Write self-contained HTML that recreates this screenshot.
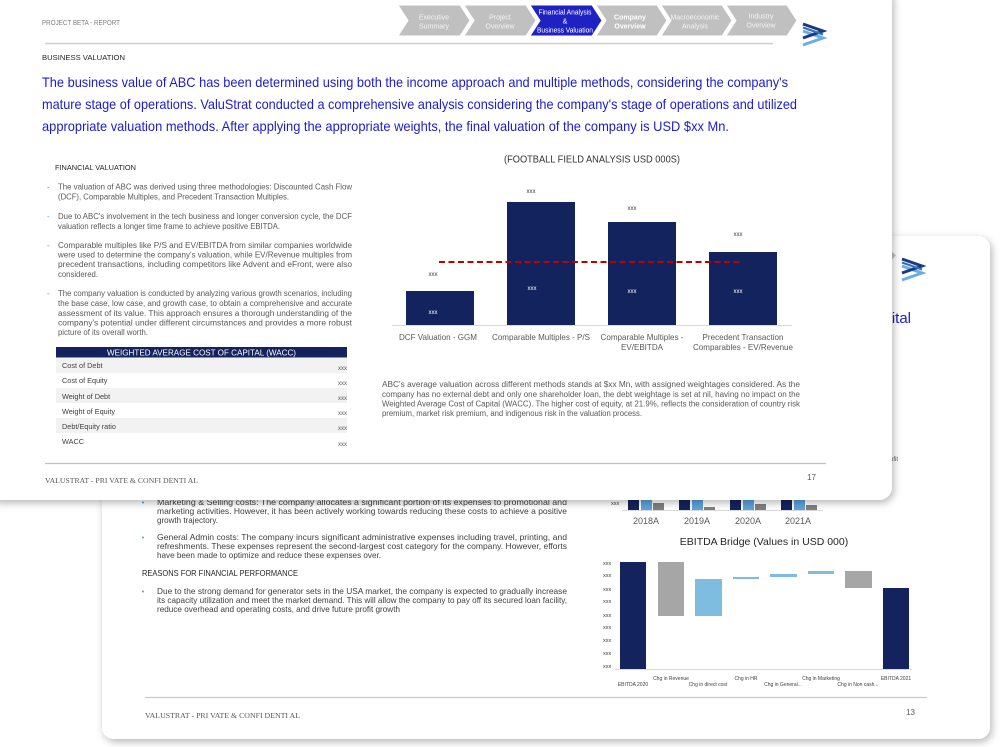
<!DOCTYPE html>
<html><head><meta charset="utf-8"><style>
html,body{margin:0;padding:0;background:#fff;}
svg{display:block;}
text{font-family:"Liberation Sans",Arial,sans-serif;}
.serif{font-family:"Liberation Serif",serif;}
</style></head><body>
<svg width="1000" height="747" viewBox="0 0 1000 747" xmlns="http://www.w3.org/2000/svg">
<defs>
<filter id="sh" x="-10%" y="-10%" width="120%" height="120%">
<feDropShadow dx="2" dy="3" stdDeviation="4" flood-color="#000" flood-opacity="0.28"/>
</filter>
</defs>
<rect width="1000" height="747" fill="#fff"/>

<!-- ============ BACK SLIDE ============ -->
<rect x="102" y="236" width="888" height="503" rx="12" fill="#fff" filter="url(#sh)"/>
<polygon points="850,247 887,247 896,255.5 887,264 850,264 858,255.5" fill="#c4c4c4"/>
<g transform="translate(902,258)">
<polyline points="0,8 20,15 0,22" fill="none" stroke="#6aaee6" stroke-width="3"/>
<polyline points="0,1 20,8 0,15" fill="none" stroke="#1d3a80" stroke-width="3"/>
<polyline points="0,4.5 20,11.5" fill="none" stroke="#2f6fc0" stroke-width="2"/>
</g>
<text x="911" y="323" font-size="15" fill="#1c1ccc" text-anchor="end">improve working capital</text>
<text x="898" y="461" font-size="6" fill="#595959" text-anchor="end">profit</text>

<!-- small column chart remnant -->
<text x="611" y="505" font-size="5.5" fill="#404040">xxx</text>
<g>
<rect x="628" y="494" width="11" height="16" fill="#13235e"/>
<rect x="641" y="494" width="11" height="16" fill="#5ba3dc"/>
<rect x="653" y="503" width="11" height="7" fill="#7f7f7f"/>
<rect x="679" y="494" width="11" height="16" fill="#13235e"/>
<rect x="692" y="494" width="11" height="16" fill="#5ba3dc"/>
<rect x="704" y="507" width="11" height="3" fill="#7f7f7f"/>
<rect x="730" y="494" width="11" height="16" fill="#13235e"/>
<rect x="743" y="494" width="11" height="16" fill="#5ba3dc"/>
<rect x="755" y="504" width="11" height="6" fill="#7f7f7f"/>
<rect x="781" y="494" width="11" height="16" fill="#13235e"/>
<rect x="794" y="494" width="11" height="16" fill="#5ba3dc"/>
<rect x="806" y="505" width="11" height="5" fill="#7f7f7f"/>
<line x1="622" y1="510.5" x2="823" y2="510.5" stroke="#d9d9d9" stroke-width="1"/>
</g>
<g font-size="9" fill="#595959" text-anchor="middle">
<text x="646" y="524">2018A</text>
<text x="697" y="524">2019A</text>
<text x="748" y="524">2020A</text>
<text x="798" y="524">2021A</text>
</g>

<!-- EBITDA bridge -->
<text x="764" y="545" font-size="10.5" fill="#262626" text-anchor="middle">EBITDA Bridge  (Values in USD 000)</text>
<g font-size="5.5" fill="#404040">
<text x="603" y="565">xxx</text>
<text x="603" y="577">xxx</text>
<text x="603" y="591">xxx</text>
<text x="603" y="603">xxx</text>
<text x="603" y="617">xxx</text>
<text x="603" y="629">xxx</text>
<text x="603" y="642">xxx</text>
<text x="603" y="655">xxx</text>
<text x="603" y="668">xxx</text>
</g>
<rect x="620" y="562" width="26" height="107" fill="#13235e"/>
<rect x="658" y="562" width="26" height="54" fill="#a6a6a6"/>
<rect x="695" y="579" width="27" height="37" fill="#7fbde0"/>
<rect x="733" y="577" width="26" height="2" fill="#7fbde0"/>
<rect x="770" y="574" width="27" height="3" fill="#7fbde0"/>
<rect x="808" y="571" width="26" height="3" fill="#7fbde0"/>
<rect x="845" y="571" width="27" height="17" fill="#a6a6a6"/>
<rect x="883" y="588" width="26" height="81" fill="#13235e"/>
<line x1="615" y1="669.5" x2="912" y2="669.5" stroke="#d9d9d9" stroke-width="1"/>
<g font-size="5" fill="#404040" text-anchor="middle">
<text x="633" y="686">EBITDA 2020</text>
<text x="671" y="680">Chg in Revenue</text>
<text x="708" y="686">Chg in direct cost</text>
<text x="746" y="680">Chg in HR</text>
<text x="783" y="686">Chg in General...</text>
<text x="821" y="680">Chg in Marketing</text>
<text x="858" y="686">Chg in Non cash...</text>
<text x="896" y="680">EBITDA 2021</text>
</g>

<!-- back body text -->
<g font-size="8.3" fill="#404040">
<text x="143" y="505" fill="#5b9bd5" font-size="7" text-anchor="middle">•</text>
<text x="157" y="505" textLength="410" lengthAdjust="spacingAndGlyphs">Marketing &amp; Selling costs: The company allocates a significant portion of its expenses to promotional and</text>
<text x="157" y="514" textLength="410" lengthAdjust="spacingAndGlyphs">marketing activities. However, it has been actively working towards reducing these costs to achieve a positive</text>
<text x="157" y="523" textLength="61" lengthAdjust="spacingAndGlyphs">growth trajectory.</text>
<text x="143" y="540" fill="#5b9bd5" font-size="7" text-anchor="middle">•</text>
<text x="157" y="540" textLength="410" lengthAdjust="spacingAndGlyphs">General Admin costs: The company incurs significant administrative expenses including travel, printing, and</text>
<text x="157" y="549" textLength="410" lengthAdjust="spacingAndGlyphs">refreshments. These expenses represent the second-largest cost category for the company. However, efforts</text>
<text x="157" y="558" textLength="224" lengthAdjust="spacingAndGlyphs">have been made to optimize and reduce these expenses over.</text>
<text x="142" y="576" font-size="8.3" fill="#262626" textLength="156" lengthAdjust="spacingAndGlyphs">REASONS FOR FINANCIAL PERFORMANCE</text>
<text x="143" y="594" fill="#5b9bd5" font-size="7" text-anchor="middle">•</text>
<text x="157" y="594" textLength="410" lengthAdjust="spacingAndGlyphs">Due to the strong demand for generator sets in the USA market, the company is expected to gradually increase</text>
<text x="157" y="603" textLength="410" lengthAdjust="spacingAndGlyphs">its capacity utilization and meet the market demand. This will allow the company to pay off its secured loan facility,</text>
<text x="157" y="612" textLength="243" lengthAdjust="spacingAndGlyphs">reduce overhead and operating costs, and drive future profit growth</text>
</g>

<!-- back footer -->
<line x1="145" y1="697.5" x2="927" y2="697.5" stroke="#c8c8c8" stroke-width="1.2"/>
<text x="145" y="718" class="serif" font-size="7.5" fill="#595959" textLength="155" lengthAdjust="spacingAndGlyphs">VALUSTRAT  -  PRI VATE  &amp; CONFI DENTI AL</text>
<text x="915" y="715" font-size="8" fill="#595959" text-anchor="end">13</text>

<!-- ============ FRONT SLIDE ============ -->
<rect x="-14" y="-14" width="906" height="514" rx="13" fill="#fff" filter="url(#sh)"/>

<text x="42" y="25" font-size="7" fill="#7f7f7f" textLength="78" lengthAdjust="spacingAndGlyphs">PROJECT BETA - REPORT</text>

<!-- nav chevrons -->
<g stroke="#fff" stroke-width="1">
<polygon points="398,5 460,5 470,20.5 460,36 398,36 408,20.5" fill="#c0c0c0"/>
<polygon points="464,5 526,5 536,20.5 526,36 464,36 474,20.5" fill="#c0c0c0"/>
<polygon points="530,5 592,5 602,20.5 592,36 530,36 540,20.5" fill="#1e22c2"/>
<polygon points="596,5 657,5 667,20.5 657,36 596,36 606,20.5" fill="#c0c0c0"/>
<polygon points="661,5 722,5 732,20.5 722,36 661,36 671,20.5" fill="#c0c0c0"/>
<polygon points="726,5 787,5 797,20.5 787,36 726,36 736,20.5" fill="#c0c0c0"/>
</g>
<g font-size="7" fill="#f4f4f4" text-anchor="middle">
<text x="434" y="19.5">Executive</text>
<text x="434" y="28.5">Summary</text>
<text x="500" y="19.5">Project</text>
<text x="500" y="28.5">Overview</text>
<text x="565" y="14.5" fill="#fff" textLength="53" lengthAdjust="spacingAndGlyphs">Financial Analysis</text>
<text x="565" y="23.5" fill="#fff">&amp;</text>
<text x="565" y="32.5" fill="#fff" textLength="56" lengthAdjust="spacingAndGlyphs">Business Valuation</text>
<text x="630" y="19.5" font-weight="bold" fill="#fff">Company</text>
<text x="630" y="28.5" font-weight="bold" fill="#fff">Overview</text>
<text x="695" y="19.5" textLength="49" lengthAdjust="spacingAndGlyphs">Macroeconomic</text>
<text x="695" y="28.5">Analysis</text>
<text x="761" y="18.5">Industry</text>
<text x="761" y="27.5">Overview</text>
</g>
<line x1="45" y1="43.5" x2="773" y2="43.5" stroke="#d0d0d0" stroke-width="1.5"/>
<g transform="translate(803,23)">
<polyline points="0,8 20,15 0,22" fill="none" stroke="#6aaee6" stroke-width="3"/>
<polyline points="0,1 20,8 0,15" fill="none" stroke="#1d3a80" stroke-width="3"/>
<polyline points="0,4.5 20,11.5" fill="none" stroke="#2f6fc0" stroke-width="2"/>
</g>

<text x="42" y="60" font-size="7.5" fill="#262626" textLength="83" lengthAdjust="spacingAndGlyphs">BUSINESS VALUATION</text>

<g font-size="14" fill="#1c1ccc">
<text x="42" y="87" textLength="746" lengthAdjust="spacingAndGlyphs">The business value of ABC has been determined using both the income approach and multiple methods, considering the company's</text>
<text x="42" y="109" textLength="755" lengthAdjust="spacingAndGlyphs">mature stage of operations. ValuStrat conducted a comprehensive analysis considering the company's stage of operations and utilized</text>
<text x="42" y="131" textLength="687" lengthAdjust="spacingAndGlyphs">appropriate valuation methods. After applying the appropriate weights, the final valuation of the company is USD $xx Mn.</text>
</g>

<text x="55" y="170" font-size="7.5" fill="#262626" textLength="81" lengthAdjust="spacingAndGlyphs">FINANCIAL  VALUATION</text>

<g font-size="8" fill="#595959">
<g fill="#5b9bd5">
<text x="47" y="189.7">-</text>
<text x="47" y="219">-</text>
<text x="47" y="248">-</text>
<text x="47" y="296">-</text>
</g>
<text x="58" y="189.7" textLength="294" lengthAdjust="spacingAndGlyphs">The valuation of ABC was derived using three methodologies: Discounted Cash Flow</text>
<text x="58" y="199.7" textLength="231" lengthAdjust="spacingAndGlyphs">(DCF), Comparable Multiples, and Precedent Transaction Multiples.</text>
<text x="58" y="219" textLength="294" lengthAdjust="spacingAndGlyphs">Due to ABC's involvement in the tech business and longer conversion cycle, the DCF</text>
<text x="58" y="229" textLength="222" lengthAdjust="spacingAndGlyphs">valuation reflects a longer time frame to achieve positive EBITDA.</text>
<text x="58" y="248" textLength="294" lengthAdjust="spacingAndGlyphs">Comparable multiples like P/S and EV/EBITDA from similar companies worldwide</text>
<text x="58" y="257.5" textLength="294" lengthAdjust="spacingAndGlyphs">were used to determine the company's valuation, while EV/Revenue multiples from</text>
<text x="58" y="267" textLength="294" lengthAdjust="spacingAndGlyphs">precedent transactions, including competitors like Advent and eFront, were also</text>
<text x="58" y="277" textLength="40" lengthAdjust="spacingAndGlyphs">considered.</text>
<text x="58" y="296" textLength="294" lengthAdjust="spacingAndGlyphs">The company valuation is conducted by analyzing various growth scenarios, including</text>
<text x="58" y="306" textLength="294" lengthAdjust="spacingAndGlyphs">the base case, low case, and growth case, to obtain a comprehensive and accurate</text>
<text x="58" y="316" textLength="294" lengthAdjust="spacingAndGlyphs">assessment of its value. This approach ensures a thorough understanding of the</text>
<text x="58" y="325.5" textLength="294" lengthAdjust="spacingAndGlyphs">company's potential under different circumstances and provides a more robust</text>
<text x="58" y="335" textLength="90" lengthAdjust="spacingAndGlyphs">picture of its overall worth.</text>
</g>

<!-- WACC table -->
<rect x="56" y="347" width="291" height="10.5" fill="#14235e"/>
<text x="201.5" y="355.5" font-size="8" fill="#fff" text-anchor="middle" textLength="189" lengthAdjust="spacingAndGlyphs">WEIGHTED AVERAGE COST OF CAPITAL (WACC)</text>
<rect x="56" y="358" width="291" height="15" fill="#f2f2f2"/>
<rect x="56" y="388" width="291" height="15" fill="#f2f2f2"/>
<rect x="56" y="418" width="291" height="15" fill="#f2f2f2"/>
<g font-size="7.3" fill="#404040">
<text x="62" y="368">Cost of Debt</text>
<text x="62" y="383">Cost of Equity</text>
<text x="62" y="399">Weight of Debt</text>
<text x="62" y="414">Weight of Equity</text>
<text x="62" y="429">Debt/Equity ratio</text>
<text x="62" y="444">WACC</text>
</g>
<g font-size="6" fill="#595959" text-anchor="end">
<text x="347" y="370">xxx</text>
<text x="347" y="385">xxx</text>
<text x="347" y="400">xxx</text>
<text x="347" y="415">xxx</text>
<text x="347" y="430">xxx</text>
<text x="347" y="446">xxx</text>
</g>

<!-- Football field chart -->
<text x="592" y="162.5" font-size="10" fill="#333" text-anchor="middle" textLength="176" lengthAdjust="spacingAndGlyphs">(FOOTBALL FIELD ANALYSIS USD 000S)</text>
<rect x="406" y="291" width="68" height="34" fill="#13235e"/>
<rect x="507" y="202" width="68" height="123" fill="#13235e"/>
<rect x="608" y="222" width="68" height="103" fill="#13235e"/>
<rect x="709" y="252" width="68" height="73" fill="#13235e"/>
<line x1="392" y1="325.5" x2="792" y2="325.5" stroke="#d9d9d9" stroke-width="1"/>
<line x1="439" y1="262" x2="743" y2="262" stroke="#c00000" stroke-width="2" stroke-dasharray="6 3.5"/>
<g font-size="6" fill="#404040" text-anchor="middle">
<text x="433" y="276">xxx</text>
<text x="531" y="193">xxx</text>
<text x="632" y="210">xxx</text>
<text x="738" y="236">xxx</text>
</g>
<g font-size="6" fill="#fff" text-anchor="middle">
<text x="433" y="314">xxx</text>
<text x="532" y="290">xxx</text>
<text x="632" y="293">xxx</text>
<text x="738" y="293">xxx</text>
</g>
<g font-size="8.5" fill="#595959" text-anchor="middle">
<text x="438" y="340" textLength="78" lengthAdjust="spacingAndGlyphs">DCF Valuation - GGM</text>
<text x="541" y="340" textLength="98" lengthAdjust="spacingAndGlyphs">Comparable Multiples - P/S</text>
<text x="642" y="340" textLength="83" lengthAdjust="spacingAndGlyphs">Comparable Multiples -</text>
<text x="642" y="350" textLength="42" lengthAdjust="spacingAndGlyphs">EV/EBITDA</text>
<text x="743" y="340" textLength="81" lengthAdjust="spacingAndGlyphs">Precedent Transaction</text>
<text x="743" y="350" textLength="100" lengthAdjust="spacingAndGlyphs">Comparables - EV/Revenue</text>
</g>

<g font-size="8" fill="#595959">
<text x="382" y="387" textLength="418" lengthAdjust="spacingAndGlyphs">ABC's average valuation across different methods stands at $xx Mn, with assigned weightages considered. As the</text>
<text x="382" y="397" textLength="418" lengthAdjust="spacingAndGlyphs">company has no external debt and only one shareholder loan, the debt weightage is set at nil, having no impact on the</text>
<text x="382" y="406.5" textLength="418" lengthAdjust="spacingAndGlyphs">Weighted Average Cost of Capital (WACC). The higher cost of equity, at 21.9%, reflects the consideration of country risk</text>
<text x="382" y="416" textLength="260" lengthAdjust="spacingAndGlyphs">premium, market risk premium, and indigenous risk in the valuation process.</text>
</g>

<!-- front footer -->
<line x1="45" y1="463.5" x2="826" y2="463.5" stroke="#c0c0c0" stroke-width="1.2"/>
<text x="45" y="483" class="serif" font-size="7.5" fill="#595959" textLength="153" lengthAdjust="spacingAndGlyphs">VALUSTRAT  -  PRI VATE  &amp; CONFI DENTI AL</text>
<text x="816" y="480" font-size="8" fill="#595959" text-anchor="end">17</text>
</svg>
</body></html>
